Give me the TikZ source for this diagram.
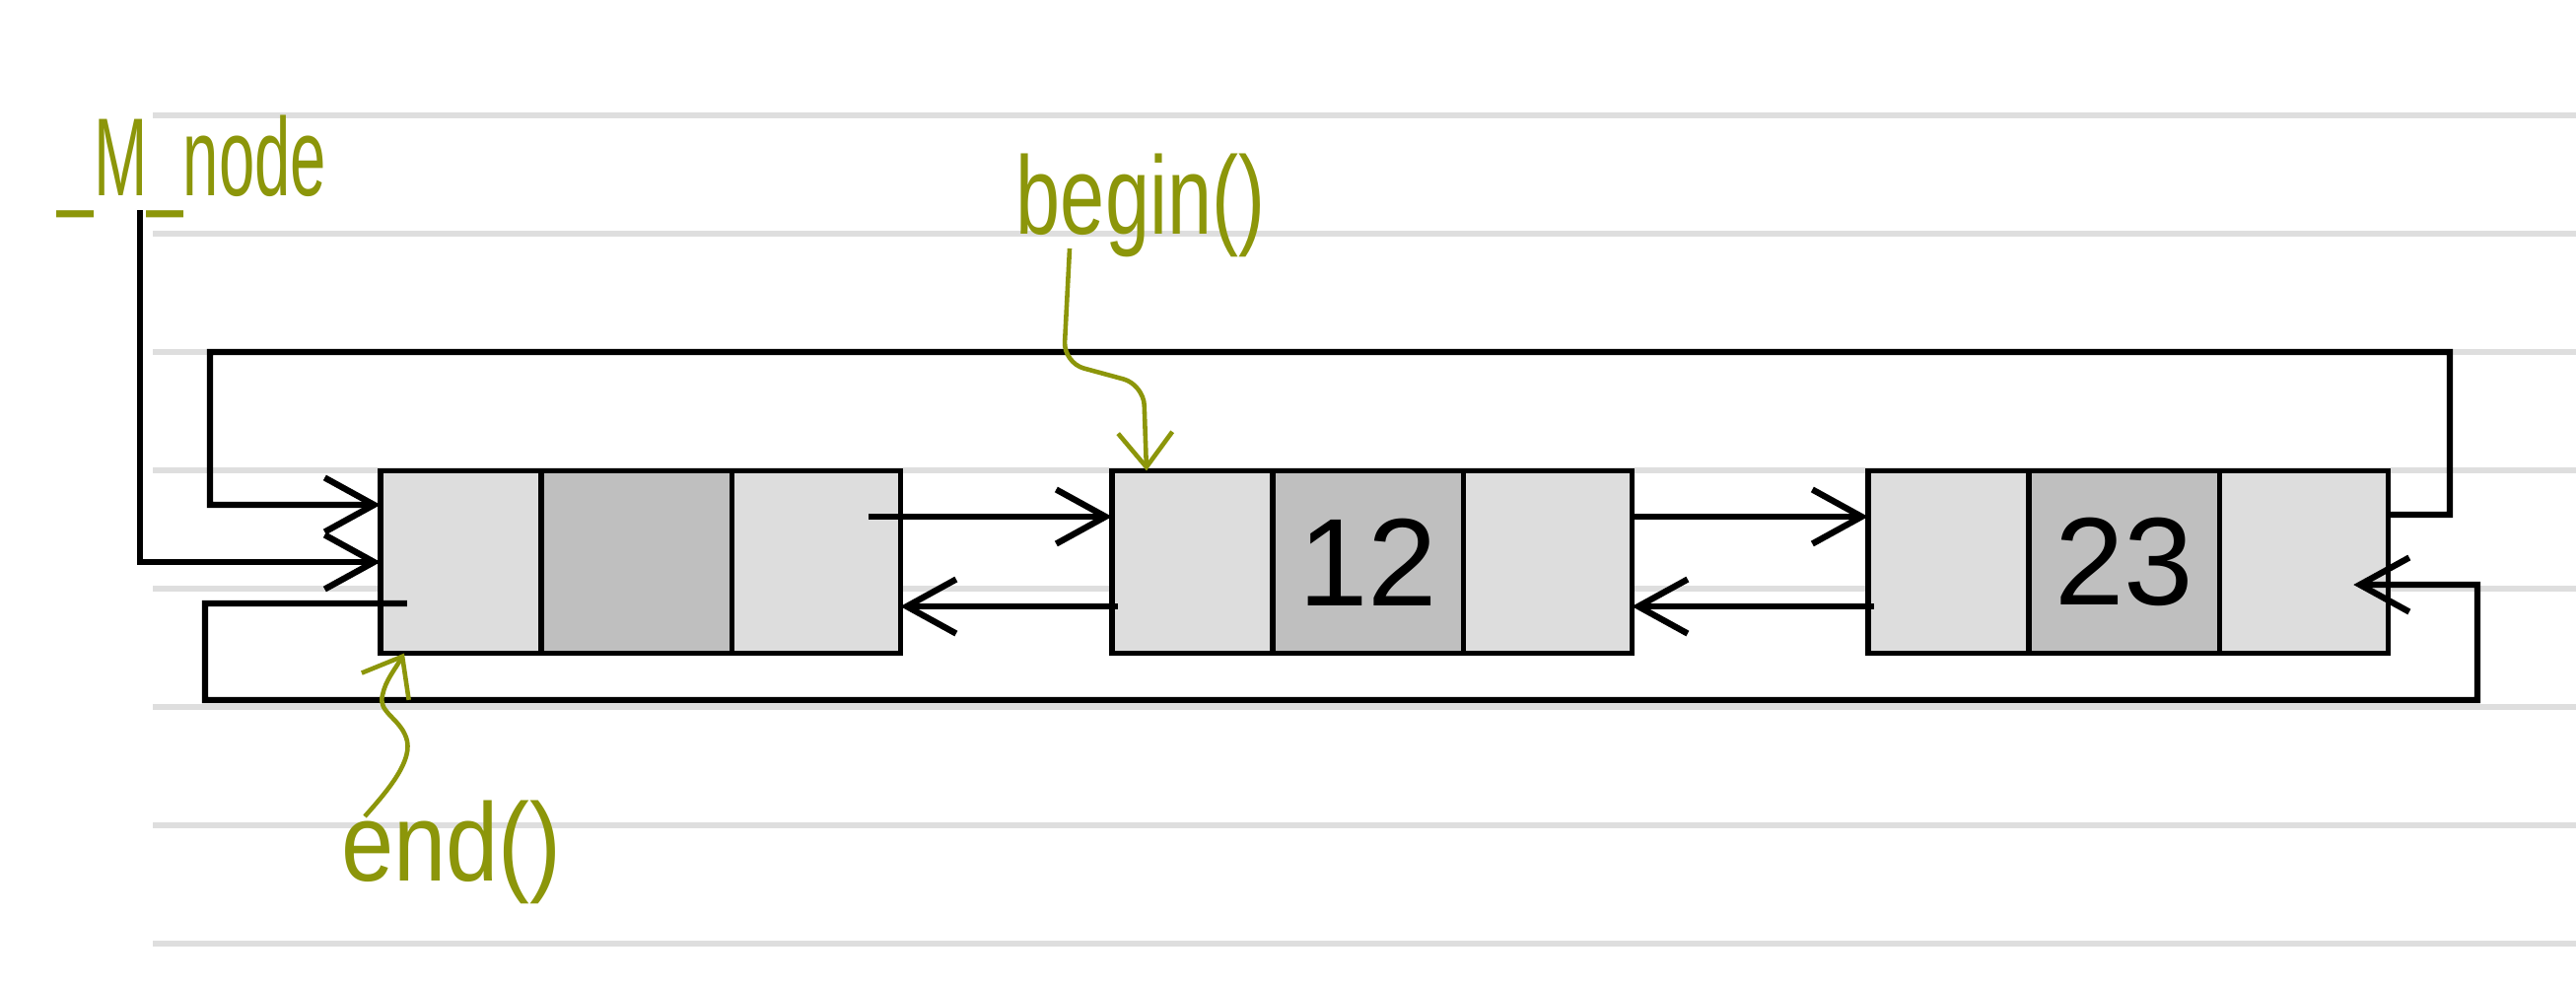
\documentclass[tikz,border=0pt]{standalone}
\usepackage{fontspec}
\setmainfont{Liberation Sans}
\usepackage{graphicx}
\usetikzlibrary{arrows.meta,positioning}

\definecolor{cellgray}{HTML}{DDDDDD}
\definecolor{datagray}{HTML}{BFBFBF}
\definecolor{rulegray}{HTML}{DEDEDE}
\definecolor{pen}{RGB}{140,150,10}

\tikzset{
  cell/.style={draw=black, line width=1.5pt, fill=cellgray, minimum height=1.85cm, inner sep=0pt, outer sep=0pt},
  datacell/.style={cell, fill=datagray, minimum width=1.93cm, font=\fontsize{36}{38}\selectfont},
  link/.style={line width=1.8pt, -{Straight Barb[length=5mm,width=5.5mm]}},
  hand/.style={text=pen, font=\fontsize{32}{34}\selectfont, inner sep=0pt},
  penarrow/.style={draw=pen, line width=1.3pt, -{Straight Barb[length=3.5mm,width=5.5mm]}}
}

\begin{document}
\begin{tikzpicture}[x=0.01cm,y=-0.01cm]
\useasboundingbox (0,0) rectangle (2613,1000);
\fill[white] (0,0) rectangle (2613,1000);
% ruled paper
\foreach \y in {117,237,...,957}
	{\draw[rulegray, line width=1.7pt] (155,\y) -- (2613,\y);}
% the three list nodes
\foreach \k/\x/\v in {1/386/{}, 2/1128/12, 3/1895/23}
{
	\node[cell, minimum width=1.63cm] (prev\k) at (\x+81.5,570) {};
	\node[datacell, right=0pt of prev\k] (data\k) {\v};
	\node[cell, minimum width=1.71cm, right=0pt of data\k] (next\k) {};
}
% labels
\node[hand, anchor=base] (mnode) at (195,198) {\scalebox{0.58}[1]{\_M\_node}};
\node[hand, anchor=base] (beginlbl) at (1157,237) {\scalebox{0.72}[1]{begin()}};
\node[hand, anchor=base] (endlbl) at (458,893) {\scalebox{0.85}[1]{end()}};
\coordinate (mroot) at (142,213);
\coordinate (bstart) at (1085,252);
\coordinate (estart) at (370,828);
% links
\draw[link] (mroot) |- (prev1.west);
\draw[link] ([yshift=4.8mm]next3.east) -| (2485,357) -| (213,512) -- ([yshift=5.8mm]prev1.west);
\draw[link] ([xshift=2.7mm,yshift=-4.2mm]prev1.west) -| (208,710) -| (2513,593) -- ([xshift=-3.5mm,yshift=-2.3mm]next3.east);
\foreach \a/\b/\s in {1/2/-3.2mm, 2/3/0mm}
{
	\draw[link] ([xshift=\s,yshift=4.6mm]next\a.east) -- ([yshift=4.6mm]prev\b.west);
	\draw[link] ([xshift=0.6mm,yshift=-4.5mm]prev\b.west) -- ([yshift=-4.5mm]next\a.east);
}
% begin() and end()
\draw[penarrow, rounded corners=6] (bstart) -- (1079,368) -- (1160,390) -- ([xshift=3.5mm]prev2.north west);
\draw[penarrow] (estart) .. controls (395,800) and (420,770) .. (412,748) .. controls (405,728) and (383,722) .. (388,705) .. controls (391,690) and (400,680) .. ([xshift=2.4mm]prev1.south west);
\end{tikzpicture}
\end{document}
